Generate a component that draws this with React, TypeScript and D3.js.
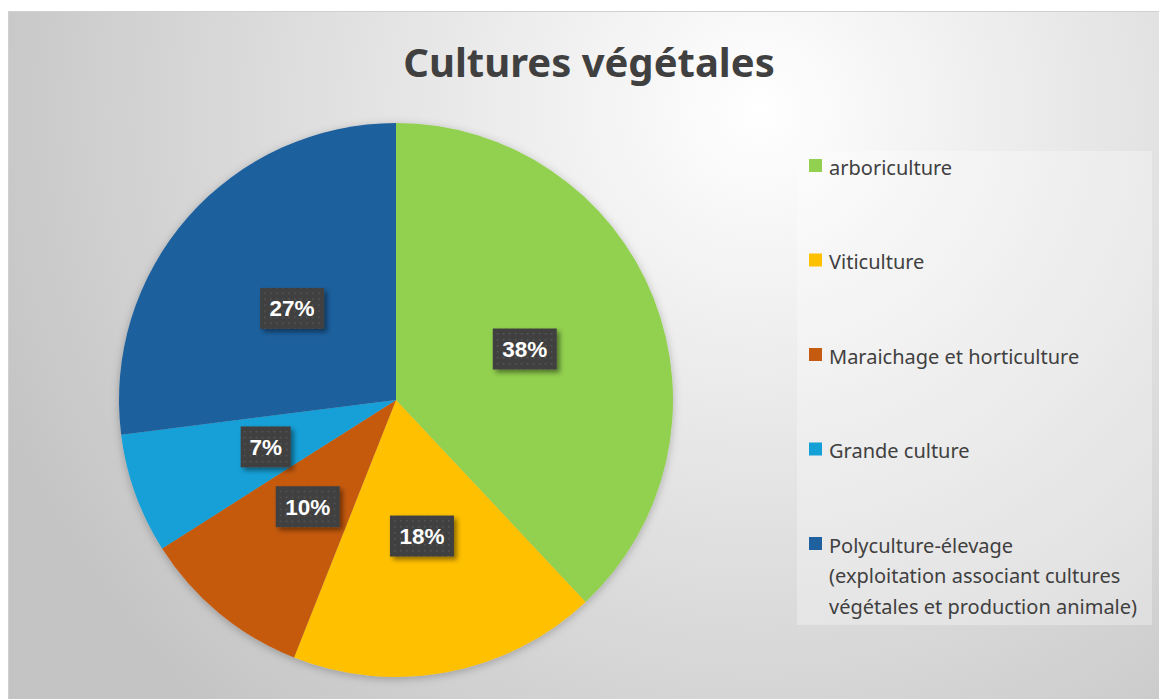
import React from "react";
import * as d3 from "d3";

const categories = [
  "arboriculture",
  "Viticulture",
  "Maraichage et horticulture",
  "Grande culture",
  "Polyculture-élevage (exploitation associant cultures végétales et production animale)",
];
const legendLines = [
  ["arboriculture"],
  ["Viticulture"],
  ["Maraichage et horticulture"],
  ["Grande culture"],
  ["Polyculture-élevage", "(exploitation associant cultures", "végétales et production animale)"],
];
const shares = [38, 18, 10, 7, 27];
const colors = ["#92D050", "#FFC000", "#C55A11", "#12A0D7", "#1F609E"];

const W = 1159;
const H = 699;
const cx = 396;
const cy = 400;
const radius = 277;

const App = () => {
  const data = categories.map((c, i) => ({ name: c, value: shares[i], color: colors[i] }));
  const pie = d3.pie<any>().sort(null).value((d) => d.value);
  const arcs = pie(data);
  const arc = d3.arc<any>().innerRadius(0).outerRadius(radius);

  // legend rows spread evenly
  const legendY = d3.scaleLinear().domain([0, 4]).range([168, 546]);

  return (
    <svg
      width={W}
      height={H}
      style={{ position: "absolute", left: 0, top: 0 }}
      fontFamily="'Noto Sans', sans-serif"
    >
      <defs>
        <radialGradient id="bg" gradientUnits="userSpaceOnUse" cx={760} cy={110} r={820}>
          <stop offset="0" stopColor="#ffffff" />
          <stop offset="1" stopColor="#c4c4c4" />
        </radialGradient>
        <pattern id="dots" width={6} height={6} patternUnits="userSpaceOnUse">
          <rect width={6} height={6} fill="#404040" />
          <rect x={2} y={2} width={1.5} height={1.5} fill="#575757" />
        </pattern>
        <filter id="boxShadow" x="-30%" y="-30%" width="160%" height="160%">
          <feDropShadow dx={3} dy={3} stdDeviation={2.5} floodColor="#000" floodOpacity={0.45} />
        </filter>
        <filter id="pieShadow" x="-10%" y="-10%" width="120%" height="120%">
          <feDropShadow dx={0} dy={2} stdDeviation={4} floodColor="#000" floodOpacity={0.25} />
        </filter>
      </defs>

      <rect x={8.5} y={11.5} width={1160} height={700} fill="url(#bg)" stroke="#d0d0d0" />

      <text
        x={589}
        y={77}
        textAnchor="middle"
        fontSize={40}
        fontWeight="bold"
        fill="#404040"
      >
        Cultures végétales
      </text>

      <g transform={`translate(${cx},${cy})`}>
        <g filter="url(#pieShadow)">
          {arcs.map((a, i) => (
            <path key={i} d={arc(a) || ""} fill={a.data.color} />
          ))}
        </g>
        {arcs.map((a, i) => {
          const [lx, ly] = arc.centroid(a);
          const label = `${a.data.value}%`;
          const bw = label.length * 14 + 22;
          const bh = 41;
          return (
            <g key={i} transform={`translate(${lx},${ly})`}>
              <rect
                x={-bw / 2}
                y={-bh / 2}
                width={bw}
                height={bh}
                fill="url(#dots)"
                filter="url(#boxShadow)"
              />
              <text
                y={8}
                textAnchor="middle"
                fontFamily="'Liberation Sans', Arial, sans-serif"
                fontWeight="bold"
                fontSize={22.5}
                fill="#ffffff"
              >
                {label}
              </text>
            </g>
          );
        })}
      </g>

      <rect x={797} y={151} width={355} height={474} fill="#ffffff" fillOpacity={0.3} />
      {legendLines.map((lines, i) => {
        const y = legendY(i);
        return (
          <g key={i}>
            <rect x={809} y={y - 9} width={13} height={13} fill={colors[i]} />
            <text x={829} y={y + 6.5} fontSize={20} fill="#404040">
              {lines.map((l, j) => (
                <tspan key={j} x={829} dy={j === 0 ? 0 : 30.5}>
                  {l}
                </tspan>
              ))}
            </text>
          </g>
        );
      })}
    </svg>
  );
};

export default App;
